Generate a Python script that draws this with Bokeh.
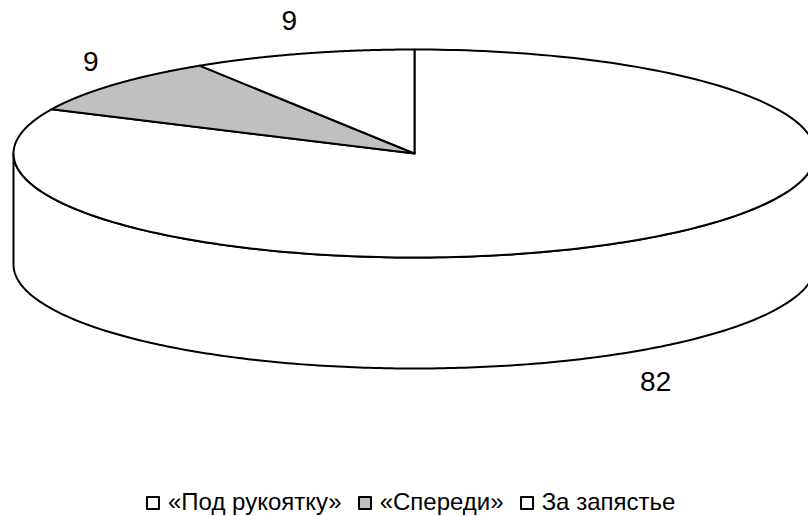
import numpy as np
from bokeh.plotting import figure
from bokeh.models import Range1d, Legend, LegendItem
from bokeh.core.properties import value
from bokeh.embed import file_html
from bokeh.resources import INLINE

# ---- data ----
categories = ["«Под рукоятку»", "«Спереди»", "За запястье"]
values = [82, 9, 9]
value_labels = ["82", "9", "9"]
colors = ["#FFFFFF", "#C0C0C0", "#FFFFFF"]

# ---- geometry (screen-like coordinates) ----
CX, CY, RX, RY, DEPTH = 414.0, 153.0, 401.0, 104.0, 111.0
FONT = "Liberation Sans"
W, H = 808, 516

p = figure(width=W, height=H, output_backend="svg", toolbar_location=None,
           x_range=Range1d(0, W), y_range=Range1d(H, 0),
           min_border=0, outline_line_color=None)
p.axis.visible = False
p.grid.visible = False
p.background_fill_color = "white"
p.border_fill_color = "white"


def arc(t0, t1, dy=0.0, n=240):
    t = np.radians(np.linspace(t0, t1, n))
    return CX + RX * np.cos(t), CY - RY * np.sin(t) + dy


total = float(sum(values))
cum = 0.0
slices = []
for v in values:
    a0 = 90.0 - 360.0 * cum / total
    cum += v
    a1 = 90.0 - 360.0 * cum / total
    slices.append((a0, a1))

# side walls (front half: angles in [-180, 0] + k*360)
for (a0, a1), col in zip(slices, colors):
    for k in (-1, 0, 1):
        lo = max(a1, -180.0 + 360 * k)
        hi = min(a0, 0.0 + 360 * k)
        if hi > lo:
            xt, yt = arc(lo, hi)
            xb, yb = arc(hi, lo, dy=DEPTH)
            p.patch(np.concatenate([xt, xb]), np.concatenate([yt, yb]),
                    fill_color=col, line_color="black", line_width=2,
                    line_join="round")

# top face
renderers = []
for (a0, a1), col in zip(slices, colors):
    xs, ys = arc(a0, a1)
    r = p.patch(np.concatenate([[CX], xs, [CX]]), np.concatenate([[CY], ys, [CY]]),
                fill_color=col, line_color="black", line_width=2, line_join="round")
    renderers.append(r)

# value labels, placed outside the slice mid-angle
lx, ly = [], []
for (a0, a1), lab in zip(slices, value_labels):
    m = np.radians((a0 + a1) / 2.0)
    c, s = np.cos(m), np.sin(m)
    half_w = 15.6 * len(lab) / 2.0
    x = CX + RX * c + 20 * c + np.sign(c) * half_w
    y = CY - RY * s - 35 * s
    if s < 0:
        y += DEPTH
    lx.append(x)
    ly.append(y)
p.text(x=lx, y=ly, text=value_labels, text_font=value(FONT), text_font_size="28px",
       text_align="center", text_baseline="middle", text_color="black")

legend = Legend(items=[LegendItem(label=c, renderers=[r]) for c, r in zip(categories, renderers)],
                orientation="horizontal", location=(145, 0),
                label_text_font=FONT, label_text_font_size="24px",
                label_text_color="black",
                label_height=24, glyph_width=15, glyph_height=15,
                label_standoff=8, spacing=15,
                padding=0, margin=0, border_line_color=None,
                background_fill_alpha=0)
p.add_layout(legend)

open("out.html", "w").write(file_html(p, INLINE))
